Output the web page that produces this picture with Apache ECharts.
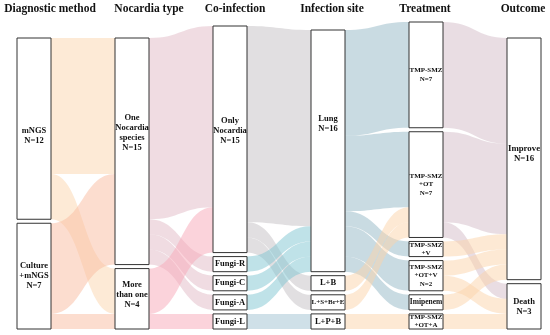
<!DOCTYPE html>
<html><head><meta charset="utf-8">
<script src="https://cdn.jsdelivr.net/npm/echarts@6/dist/echarts.min.js"></script>
<style>html,body{margin:0;padding:0;background:#fff}#c{width:550px;height:335px}</style>
</head><body><div id="c"></div>
<script>
// ---- data ----
const columnHeaders = ['Diagnostic method', 'Nocardia type', 'Co-infection', 'Infection site', 'Treatment', 'Outcome'];
const diagnosticMethod = ['mNGS', 'Culture+mNGS'];
const nocardiaType = ['One Nocardia species', 'More than one'];
const coInfection = ['Only Nocardia', 'Fungi-R', 'Fungi-C', 'Fungi-A', 'Fungi-L'];
const infectionSite = ['Lung', 'L+B', 'L+S+Br+E', 'L+P+B'];
const treatment = ['TMP-SMZ', 'TMP-SMZ+OT', 'TMP-SMZ+V', 'TMP-SMZ+OT+V', 'Imipenem', 'TMP-SMZ+OT+A'];
const outcome = ['Improve', 'Death'];

const nodeLabels = {
  'mNGS': 'mNGS\nN=12', 'Culture+mNGS': 'Culture\n+mNGS\nN=7',
  'One Nocardia species': 'One\nNocardia\nspecies\nN=15', 'More than one': 'More\nthan one\nN=4',
  'Only Nocardia': 'Only\nNocardia\nN=15', 'Fungi-R': 'Fungi-R', 'Fungi-C': 'Fungi-C', 'Fungi-A': 'Fungi-A', 'Fungi-L': 'Fungi-L',
  'Lung': 'Lung\nN=16', 'L+B': 'L+B', 'L+S+Br+E': 'L+S+Br+E', 'L+P+B': 'L+P+B',
  'TMP-SMZ': 'TMP-SMZ\nN=7', 'TMP-SMZ+OT': 'TMP-SMZ\n+OT\nN=7', 'TMP-SMZ+V': 'TMP-SMZ\n+V',
  'TMP-SMZ+OT+V': 'TMP-SMZ\n+OT+V\nN=2', 'Imipenem': 'Imipenem', 'TMP-SMZ+OT+A': 'TMP-SMZ\n+OT+A',
  'Improve': 'Improve\nN=16', 'Death': 'Death\nN=3'
};

const linkSource = [
  'mNGS', 'mNGS', 'Culture+mNGS', 'Culture+mNGS',
  'One Nocardia species', 'One Nocardia species', 'One Nocardia species', 'One Nocardia species', 'More than one', 'More than one',
  'Only Nocardia', 'Only Nocardia', 'Only Nocardia', 'Fungi-R', 'Fungi-C', 'Fungi-A', 'Fungi-L',
  'Lung', 'Lung', 'Lung', 'Lung', 'Lung', 'L+B', 'L+S+Br+E', 'L+P+B',
  'TMP-SMZ', 'TMP-SMZ+OT', 'TMP-SMZ+OT', 'TMP-SMZ+V', 'TMP-SMZ+OT+V', 'TMP-SMZ+OT+V', 'Imipenem', 'TMP-SMZ+OT+A'
];
const linkTarget = [
  'One Nocardia species', 'More than one', 'One Nocardia species', 'More than one',
  'Only Nocardia', 'Fungi-R', 'Fungi-C', 'Fungi-A', 'Only Nocardia', 'Fungi-L',
  'Lung', 'L+B', 'L+S+Br+E', 'Lung', 'Lung', 'Lung', 'L+P+B',
  'TMP-SMZ', 'TMP-SMZ+OT', 'TMP-SMZ+V', 'TMP-SMZ+OT+V', 'Imipenem', 'TMP-SMZ+OT', 'TMP-SMZ+OT', 'TMP-SMZ+OT+A',
  'Improve', 'Improve', 'Death', 'Improve', 'Improve', 'Death', 'Improve', 'Death'
];
const linkValue = [
  9, 3, 6, 1,
  12, 1, 1, 1, 3, 1,
  13, 1, 1, 1, 1, 1, 1,
  7, 5, 1, 2, 1, 1, 1, 1,
  7, 6, 1, 1, 1, 1, 1, 1
];

// ---- styles ----
const sourceColors = {
  'mNGS': '#fbd5ad', 'Culture+mNGS': '#f9bb9f',
  'One Nocardia species': '#e1b9c5', 'More than one': '#f7a7b7',
  'Only Nocardia': '#c3c0c3', 'Fungi-R': '#80c6d2', 'Fungi-C': '#80c6d2', 'Fungi-A': '#80c6d2', 'Fungi-L': '#9fc1d1',
  'Lung': '#93b7c5', 'L+B': '#fbd3a9', 'L+S+Br+E': '#fbd3a9', 'L+P+B': '#fbd3a9',
  'TMP-SMZ': '#d3bbc7', 'TMP-SMZ+OT': '#d3bbc7', 'TMP-SMZ+V': '#fbd3a9', 'TMP-SMZ+OT+V': '#fbd3a9',
  'Imipenem': '#fbd3a9', 'TMP-SMZ+OT+A': '#fbd3a9'
};
const labelStyle = {
  'mNGS': {fontSize: 8.5, offset: [0, 7]},
  'Culture+mNGS': {fontSize: 8.5},
  'One Nocardia species': {fontSize: 8.5, offset: [0, -18]},
  'More than one': {fontSize: 8.5, offset: [0, -4]},
  'Only Nocardia': {fontSize: 8.5, offset: [0, -8]},
  'Lung': {fontSize: 8.5, offset: [0, -27]},
  'L+S+Br+E': {fontSize: 7},
  'TMP-SMZ': {fontSize: 7, lineHeight: 8.5}, 'TMP-SMZ+OT': {fontSize: 7, lineHeight: 8.5},
  'TMP-SMZ+V': {fontSize: 7, lineHeight: 8}, 'TMP-SMZ+OT+V': {fontSize: 7, lineHeight: 8.5},
  'Imipenem': {fontSize: 7.5}, 'TMP-SMZ+OT+A': {fontSize: 7, lineHeight: 8},
  'Improve': {fontSize: 8.8, offset: [0, -5]},
  'Death': {fontSize: 8.5}
};
const headerX = [50, 149, 235, 332, 425, 523];

const W = 550, H = 335;
const grid = {left: 17, right: 9, top: 22, bottom: 6};
const nodeGap = 4, nodeWidth = 34;

// ---- build ----
const columns = [diagnosticMethod, nocardiaType, coInfection, infectionSite, treatment, outcome];
const inSum = {}, outSum = {};
linkSource.forEach((s, i) => {
  outSum[s] = (outSum[s] || 0) + linkValue[i];
  const t = linkTarget[i];
  inSum[t] = (inSum[t] || 0) + linkValue[i];
});
const nodeValue = n => Math.max(inSum[n] || 0, outSum[n] || 0);
const layoutH = H - grid.top - grid.bottom;
let ky = Infinity;
columns.forEach(col => {
  const sum = col.reduce((a, n) => a + nodeValue(n), 0);
  ky = Math.min(ky, (layoutH - (col.length - 1) * nodeGap) / sum);
});
// bottom-align each column
const localY = {};
columns.forEach(col => {
  const total = col.reduce((a, n) => a + nodeValue(n) * ky, 0) + (col.length - 1) * nodeGap;
  let y = layoutH - total;
  col.forEach(n => { localY[n] = y / layoutH; y += nodeValue(n) * ky + nodeGap; });
});

const nodes = [];
columns.forEach(col => col.forEach(n => {
  const ls = labelStyle[n] || {};
  nodes.push({
    name: n,
    localY: localY[n],
    label: {
      formatter: nodeLabels[n],
      fontSize: ls.fontSize || 8.5,
      lineHeight: ls.lineHeight || 10,
      offset: ls.offset || [0, 0]
    }
  });
}));
const links = linkSource.map((s, i) => ({
  source: s, target: linkTarget[i], value: linkValue[i],
  lineStyle: {color: sourceColors[s]}
}));

const chart = echarts.init(document.getElementById('c'), null, {renderer: 'canvas'});
chart.setOption({
  animation: false,
  backgroundColor: '#fff',
  graphic: columnHeaders.map((t, i) => ({
    type: 'text', x: headerX[i], y: 3,
    style: {text: t, textAlign: 'center', textVerticalAlign: 'top',
      fontFamily: '"Liberation Serif", "Times New Roman", serif', fontWeight: 'bold', fontSize: 11.5, fill: '#111'}
  })),
  series: [{
    type: 'sankey',
    left: grid.left, right: grid.right, top: grid.top, bottom: grid.bottom,
    nodeWidth: nodeWidth, nodeGap: nodeGap,
    layoutIterations: 0,
    draggable: false,
    emphasis: {disabled: true},
    itemStyle: {color: '#fff', borderColor: '#333', borderWidth: 1},
    lineStyle: {opacity: 0.5, curveness: 0.5},
    label: {
      show: true, position: 'inside', align: 'center', verticalAlign: 'middle',
      color: '#111', fontFamily: '"Liberation Serif", "Times New Roman", serif', fontWeight: 'bold'
    },
    data: nodes,
    links: links
  }]
});
</script>
</body></html>
